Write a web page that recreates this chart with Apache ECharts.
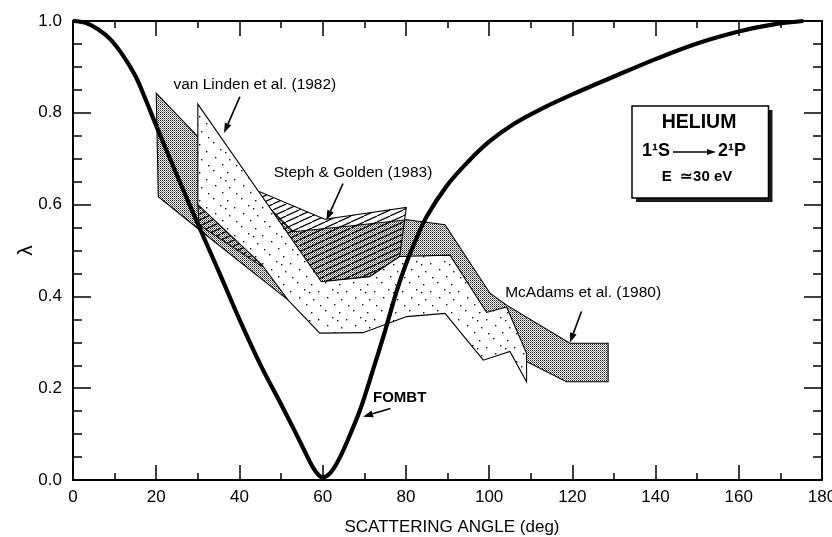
<!DOCTYPE html>
<html>
<head>
<meta charset="utf-8">
<script src="https://cdn.jsdelivr.net/npm/echarts@6/dist/echarts.min.js"></script>
<style>
  html, body { margin: 0; padding: 0; background: #fff; }
  #chart { width: 832px; height: 537px; }
</style>
</head>
<body>
<div id="chart"></div>
<script>
// ---- data (scattering angle in degrees, lambda parameter) ----
const xTickValues = [0, 20, 40, 60, 80, 100, 120, 140, 160, 180];
const yTickValues = [0.0, 0.2, 0.4, 0.6, 0.8, 1.0];

// FOMBT theory curve
const fombt = [
  [0, 1.0], [3, 0.996], [6, 0.982], [9, 0.96], [12, 0.925], [15, 0.88],
  [17.5, 0.828], [20, 0.772], [25, 0.664], [30, 0.558], [35, 0.455], [40, 0.35],
  [45, 0.252], [50, 0.165], [53, 0.112], [55.5, 0.066], [57.5, 0.03], [59, 0.011],
  [60, 0.006], [61.2, 0.01], [62.7, 0.026], [64.5, 0.056], [66.5, 0.097],
  [69, 0.153], [72, 0.237], [75, 0.325], [77.8, 0.412], [80, 0.47],
  [82, 0.515], [85, 0.574], [90, 0.643], [95, 0.694], [100, 0.737],
  [106, 0.776], [112, 0.806], [120, 0.84], [130, 0.879], [140, 0.917],
  [150, 0.951], [160, 0.977], [168, 0.992], [175.5, 1.0]
];

// McAdams et al. (1980) error band outline
const mcAdams = [
  [20, 0.843], [30, 0.748], [52.9, 0.541], [66, 0.553], [80.2, 0.567],
  [89.4, 0.556], [100.2, 0.407], [104.2, 0.381], [119.4, 0.298], [128.6, 0.298],
  [128.6, 0.214], [118.6, 0.214], [109, 0.258], [100, 0.33], [90, 0.42],
  [75, 0.42], [60, 0.39], [51.7, 0.392], [30, 0.548], [20.5, 0.617]
];

// Steph & Golden (1983) band outline
const stephGolden = [
  [30, 0.60], [44.9, 0.628], [60.5, 0.568], [80.1, 0.594], [78.5, 0.487],
  [71.3, 0.443], [59.7, 0.432], [45.3, 0.466], [30.3, 0.556]
];

// van Linden et al. (1982) band outline
const vanLinden = [
  [30, 0.819], [59.7, 0.432], [71.3, 0.443], [78.5, 0.487], [90.6, 0.49],
  [99.4, 0.365], [104.2, 0.377], [109, 0.276], [109, 0.214], [105, 0.28],
  [98.6, 0.261], [89.4, 0.363], [80.2, 0.356], [69.7, 0.321], [59.3, 0.32],
  [51.7, 0.392], [45.3, 0.47], [30, 0.60]
];

// labels with pointer arrows: text anchor, arrow tail, arrow head
const labelNames = ['van Linden et al. (1982)', 'Steph & Golden (1983)', 'McAdams et al. (1980)', 'FOMBT'];
const labelAnchors = [[43.7, 0.861], [67.3, 0.669], [122.6, 0.407], [78.5, 0.178]];
const arrowTails = [[40.1, 0.835], [64.9, 0.646], [122.2, 0.367], [76.3, 0.156]];
const arrowHeads = [[36.3, 0.756], [60.9, 0.566], [119.4, 0.299], [69.7, 0.138]];

const FONT = '"Liberation Sans", Arial, Helvetica, sans-serif';

// ---- fill patterns ----
function makeTile(w, h, draw) {
  const c = document.createElement('canvas');
  c.width = w; c.height = h;
  const g = c.getContext('2d');
  draw(g);
  return { image: c, repeat: 'repeat' };
}
// fine grey stipple
const stipple = makeTile(2, 2, g => {
  g.fillStyle = '#fff'; g.fillRect(0, 0, 2, 2);
  g.fillStyle = '#1a1a1a'; g.fillRect(0, 0, 1, 1);
  g.fillStyle = '#808080'; g.fillRect(1, 1, 1, 1);
});
// sparse dots on white
const dotted = makeTile(28, 28, g => {
  g.fillStyle = '#fff'; g.fillRect(0, 0, 28, 28);
  g.fillStyle = '#111';
  [[3, 4], [17, 2], [10, 11], [24, 9], [5, 19], [19, 17], [12, 25], [26, 24], [1, 12]]
    .forEach(p => g.fillRect(p[0], p[1], 1.4, 1.4));
});
// diagonal hatching, transparent background
const hatch = makeTile(13, 6, g => {
  g.strokeStyle = '#000'; g.lineWidth = 1.2;
  [-13, 0, 13].forEach(o => {
    g.beginPath(); g.moveTo(o, 6); g.lineTo(o + 13, 0); g.stroke();
  });
});

function polygonSeries(name, pts, fill, z) {
  return {
    type: 'custom', name, coordinateSystem: 'cartesian2d', z, silent: true, clip: false,
    data: [pts[0]],
    renderItem: (params, api) => ({
      type: 'polygon',
      shape: { points: pts.map(p => api.coord(p)) },
      style: { fill, stroke: '#000', lineWidth: 1.1 }
    })
  };
}

const labelSeries = {
  type: 'custom', name: 'labels', coordinateSystem: 'cartesian2d', z: 20, silent: true, clip: false,
  data: labelAnchors.map((p, i) => [p[0], p[1], i]),
  renderItem: (params, api) => {
    const i = api.value(2);
    const anchor = api.coord(labelAnchors[i]);
    const tail = api.coord(arrowTails[i]);
    const head = api.coord(arrowHeads[i]);
    const dx = head[0] - tail[0], dy = head[1] - tail[1];
    const len = Math.hypot(dx, dy), ux = dx / len, uy = dy / len;
    const hl = 10, hw = 3.5;
    const base = [head[0] - ux * hl, head[1] - uy * hl];
    const bold = labelNames[i] === 'FOMBT';
    return {
      type: 'group',
      children: [
        { type: 'text', x: anchor[0], y: anchor[1],
          style: { text: labelNames[i], fill: '#000', align: 'center', verticalAlign: 'middle',
                   font: (bold ? 'bold 15px ' : '15.5px ') + FONT } },
        { type: 'line', shape: { x1: tail[0], y1: tail[1], x2: base[0], y2: base[1] },
          style: { stroke: '#000', lineWidth: 1.6 } },
        { type: 'polygon',
          shape: { points: [head, [base[0] - uy * hw, base[1] + ux * hw], [base[0] + uy * hw, base[1] - ux * hw]] },
          style: { fill: '#000' } }
      ]
    };
  }
};

const tickStyle = { color: '#000', width: 1.5 };
function xAxisDef(pos, labels) {
  return {
    type: 'value', min: 0, max: 180, interval: 20, position: pos,
    axisLine: { onZero: false, lineStyle: { color: '#000', width: 2 } },
    axisTick: { inside: true, length: 15, lineStyle: tickStyle },
    minorTick: { show: true, splitNumber: 2, length: 7, lineStyle: tickStyle },
    splitLine: { show: false }, minorSplitLine: { show: false },
    axisLabel: { show: labels, color: '#000', fontSize: 17, fontFamily: FONT, margin: 9 },
    name: labels ? 'SCATTERING ANGLE (deg)' : '',
    nameLocation: 'middle', nameGap: 39,
    nameTextStyle: { color: '#000', fontSize: 17, fontFamily: FONT, padding: [0, 0, 0, 9] }
  };
}
function yAxisDef(pos, labels) {
  return {
    type: 'value', min: 0, max: 1, interval: 0.2, position: pos,
    axisLine: { onZero: false, lineStyle: { color: '#000', width: 2 } },
    axisTick: { inside: true, length: 18, lineStyle: tickStyle },
    minorTick: { show: true, splitNumber: 4, length: 9, lineStyle: tickStyle },
    splitLine: { show: false }, minorSplitLine: { show: false },
    axisLabel: { show: labels, color: '#000', fontSize: 17, fontFamily: FONT, margin: 11,
                 formatter: v => v.toFixed(1) },
    name: labels ? '\u03bb' : '',
    nameLocation: 'middle', nameGap: 36.5, nameRotate: 90, nameMoveOverlap: false,
    nameTextStyle: { color: '#000', fontSize: 21, fontFamily: FONT }
  };
}

const chart = echarts.init(document.getElementById('chart'), null, { renderer: 'canvas' });
chart.setOption({
  animation: false,
  backgroundColor: '#fff',
  grid: { left: 73, right: 10, top: 21, bottom: 57, containLabel: false, outerBoundsMode: 'none' },
  xAxis: [xAxisDef('bottom', true), xAxisDef('top', false)],
  yAxis: [yAxisDef('left', true), yAxisDef('right', false)],
  series: [
    polygonSeries('McAdams et al. (1980)', mcAdams, stipple, 2),
    polygonSeries('Steph & Golden (1983)', stephGolden, hatch, 3),
    polygonSeries('van Linden et al. (1982)', vanLinden, dotted, 4),
    {
      type: 'line', name: 'FOMBT', data: fombt, smooth: 0.35,
      showSymbol: false, z: 10, silent: true, clip: false,
      lineStyle: { color: '#000', width: 4.2 }
    },
    labelSeries
  ],
  graphic: [
    { type: 'rect', shape: { x: 636, y: 110, width: 136.5, height: 92 }, style: { fill: '#1a1a1a' }, z: 30 },
    { type: 'rect', shape: { x: 632, y: 106, width: 136.5, height: 92 },
      style: { fill: '#fff', stroke: '#000', lineWidth: 1.5 }, z: 31 },
    { type: 'text', x: 699, y: 123, z: 32,
      style: { text: 'HELIUM', fill: '#000', align: 'center', verticalAlign: 'middle', font: 'bold 19.5px ' + FONT } },
    { type: 'text', x: 670, y: 151, z: 32,
      style: { text: '1\u00b9S', fill: '#000', align: 'right', verticalAlign: 'middle', font: 'bold 18px ' + FONT } },
    { type: 'line', shape: { x1: 673, y1: 152, x2: 708, y2: 152 }, style: { stroke: '#000', lineWidth: 1.3 }, z: 32 },
    { type: 'polygon', shape: { points: [[716, 152], [707, 149], [707, 155]] }, style: { fill: '#000' }, z: 32 },
    { type: 'text', x: 718, y: 151, z: 32,
      style: { text: '2\u00b9P', fill: '#000', align: 'left', verticalAlign: 'middle', font: 'bold 18px ' + FONT } },
    { type: 'text', x: 697, y: 177, z: 32,
      style: { text: 'E  \u224330 eV', fill: '#000', align: 'center', verticalAlign: 'middle', font: 'bold 15px ' + FONT } }
  ]
});
</script>
</body>
</html>
